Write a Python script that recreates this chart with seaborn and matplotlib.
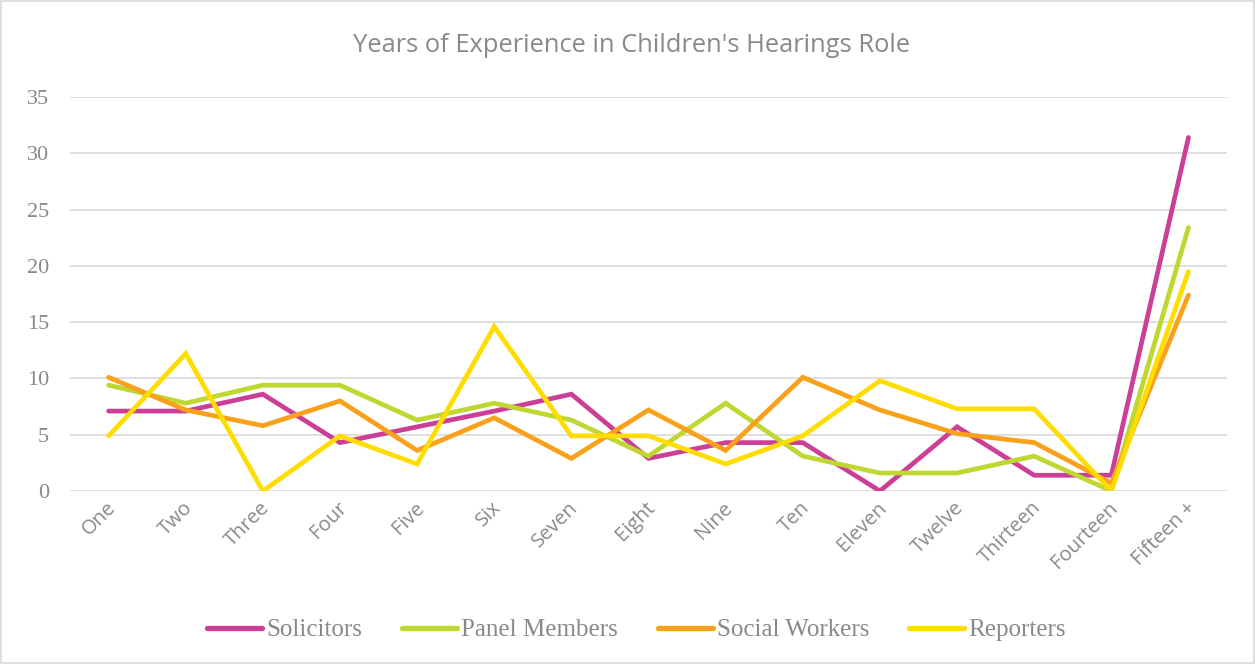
import pandas as pd
import matplotlib.pyplot as plt
import matplotlib.transforms as mtransforms
import seaborn as sns

# data (percentages)
years = ['One', 'Two', 'Three', 'Four', 'Five', 'Six', 'Seven', 'Eight', 'Nine',
         'Ten', 'Eleven', 'Twelve', 'Thirteen', 'Fourteen', 'Fifteen +']
solicitors = [7.1, 7.1, 8.6, 4.3, 5.7, 7.1, 8.6, 2.9, 4.3, 4.3, 0.0, 5.7, 1.4, 1.4, 31.4]
panel_members = [9.4, 7.8, 9.4, 9.4, 6.3, 7.8, 6.3, 3.1, 7.8, 3.1, 1.6, 1.6, 3.1, 0.0, 23.4]
social_workers = [10.1, 7.2, 5.8, 8.0, 3.6, 6.5, 2.9, 7.2, 3.6, 10.1, 7.2, 5.1, 4.3, 0.7, 17.4]
reporters = [4.9, 12.2, 0.0, 4.9, 2.4, 14.6, 4.9, 4.9, 2.4, 4.9, 9.8, 7.3, 7.3, 0.0, 19.5]

groups = ['Solicitors', 'Panel Members', 'Social Workers', 'Reporters']
colors = ['#CC3F97', '#BFD730', '#F9A11B', '#FFDD00']
text_grey = '#898989'

df = pd.DataFrame({'Year': years * 4,
                   'Value': solicitors + panel_members + social_workers + reporters,
                   'Group': [g for g in groups for _ in years]})

sns.set_theme(style='white')
plt.rcParams['font.family'] = ['Open Sans', 'DejaVu Sans']

fig = plt.figure(figsize=(12.55, 6.64), dpi=100)
ax = fig.add_axes([0.0558, 0.2605, 0.9219, 0.5935])

sns.lineplot(data=df, x='Year', y='Value', hue='Group', palette=colors,
             sort=False, linewidth=3.4, ax=ax, legend=True,
             solid_capstyle='round', solid_joinstyle='miter')

ax.set_xlim(-0.5, 14.5)
ax.set_ylim(0, 35)
ax.set_yticks(range(0, 36, 5))
ax.grid(axis='y', color='#D9D9D9', linewidth=1.2)
ax.set_axisbelow(True)
for s in ax.spines.values():
    s.set_visible(False)
ax.set_xlabel('')
ax.set_ylabel('')
ax.tick_params(axis='both', length=0, colors=text_grey)
ax.tick_params(axis='y', pad=15, labelsize=16)
ax.tick_params(axis='x', pad=10, labelsize=14.5)
for t in ax.get_yticklabels():
    t.set_family('Liberation Serif')
plt.setp(ax.get_xticklabels(), rotation=45, ha='right', va='center',
         rotation_mode='anchor')
# nudge x labels a little to the right
shift = mtransforms.ScaledTranslation(4 / 100, 0, fig.dpi_scale_trans)
for t in ax.get_xticklabels():
    t.set_transform(t.get_transform() + shift)

fig.text(0.503, 0.932, "Years of Experience in Children's Hearings Role",
         fontsize=18.4, color=text_grey, ha='center', va='center')

handles, labels = ax.get_legend_handles_labels()
for h in handles:
    h.set_linewidth(3.8)
ax.legend(handles, labels, loc='center', bbox_to_anchor=(0.507, 0.051),
          bbox_transform=fig.transFigure, ncol=4, frameon=False,
          prop={'family': 'Liberation Serif', 'size': 18}, labelcolor=text_grey,
          handlelength=2.2, handletextpad=0.16, columnspacing=1.6)

fig.patches.append(plt.Rectangle((0.001, 0.001), 0.998, 0.998, transform=fig.transFigure,
                                 fill=False, edgecolor='#D9D9D9', linewidth=1.2))

fig.savefig('out.png', dpi=100)
